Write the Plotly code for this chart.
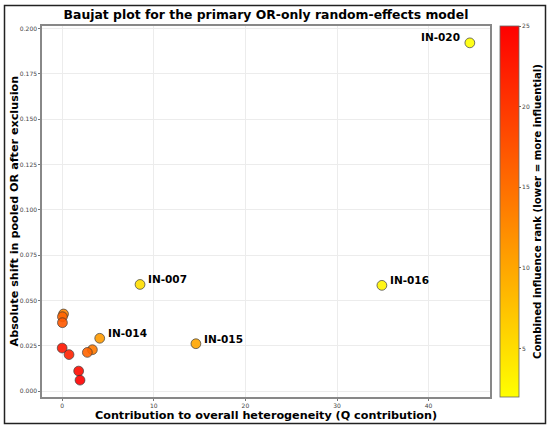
import plotly.graph_objects as go

# ---- data ----
q_contribution = [44.5, 34.9, 8.5, 14.6, 4.1, 0.15, 0.03, 0.03, 3.3, 2.75, 0.0, 0.75, 1.8, 1.95]
abs_shift = [0.1921, 0.0583, 0.0588, 0.0261, 0.0291, 0.0425, 0.0410, 0.0377, 0.0228, 0.0213, 0.0237, 0.0201, 0.0110, 0.0060]
influence_rank = [2, 3, 5, 10, 11, 13, 16, 17, 14, 16, 23, 22, 24, 25]
labels = ["IN-020", "IN-016", "IN-007", "IN-015", "IN-014", "", "", "", "", "", "", "", "", ""]

x_ticks = [0, 10, 20, 30, 40]
y_ticks = [0.000, 0.025, 0.050, 0.075, 0.100, 0.125, 0.150, 0.175, 0.200]
cbar_ticks = [5, 10, 15, 20, 25]

x_title = "Contribution to overall heterogeneity (Q contribution)"
y_title = "Absolute shift in pooled OR after exclusion"
c_title = "Combined influence rank (lower = more influential)"
main_title = "Baujat plot for the primary OR-only random-effects model"

W, H = 550, 428
ML, MR, MT, MB = 42, 60, 26, 31
pw, ph = W - ML - MR, H - MT - MB

FONT = "DejaVu Sans"


def px2paper_x(px):
    return (px - ML) / pw


def px2paper_y(py):
    return 1 - (py - MT) / ph


fig = go.Figure()
fig.add_trace(go.Scatter(
    x=q_contribution, y=abs_shift, mode="markers",
    marker=dict(
        size=9.8, color=influence_rank,
        colorscale=[[0, "rgb(255,255,0)"], [1, "rgb(255,0,0)"]],
        cmin=2, cmax=25, opacity=0.9,
        line=dict(color="#333333", width=0.75),
        colorbar=dict(
            x=px2paper_x(500), xanchor="left", xref="paper", xpad=0, ypad=0,
            y=0, yanchor="bottom", len=1, lenmode="fraction",
            thickness=19, thicknessmode="pixels",
            outlinewidth=0.8, outlinecolor="#666",
            tickvals=cbar_ticks, ticks="outside", ticklen=2, tickcolor="#666",
            tickfont=dict(size=6, color="#444", family=FONT),
            title=dict(text=c_title, side="right",
                       font=dict(size=10.2, family=FONT, color="black", weight="bold")),
        ),
    ),
    showlegend=False, hoverinfo="skip",
))

for xv, yv, lab in zip(q_contribution, abs_shift, labels):
    if not lab:
        continue
    if xv > 40:
        fig.add_annotation(x=xv, y=yv, text=lab, showarrow=False,
                           xanchor="right", yanchor="middle", xshift=-8, yshift=6,
                           font=dict(size=10.5, family=FONT, color="black", weight="bold"))
    else:
        fig.add_annotation(x=xv, y=yv, text=lab, showarrow=False,
                           xanchor="left", yanchor="middle", xshift=6, yshift=5,
                           font=dict(size=10.5, family=FONT, color="black", weight="bold"))

# axis titles
fig.add_annotation(xref="paper", yref="paper", x=0.5, y=px2paper_y(415),
                   text=x_title, showarrow=False, xanchor="center", yanchor="middle",
                   font=dict(size=11.2, family=FONT, color="black", weight="bold"))
fig.add_annotation(xref="paper", yref="paper", x=px2paper_x(14), y=0.5,
                   text=y_title, showarrow=False, xanchor="center", yanchor="middle",
                   textangle=-90,
                   font=dict(size=11.2, family=FONT, color="black", weight="bold"))

# outer figure frame
fig.add_shape(type="rect", xref="paper", yref="paper",
              x0=px2paper_x(4.5), x1=px2paper_x(545.5),
              y0=px2paper_y(423.5), y1=px2paper_y(5.5),
              line=dict(color="#222", width=1.5), fillcolor="rgba(0,0,0,0)", layer="above")

axis_common = dict(
    showline=True, linecolor="#888", linewidth=1.5, mirror=True,
    showgrid=True, gridcolor="#ececec", gridwidth=0.6, zeroline=False,
    ticks="outside", ticklen=2, tickcolor="#777", tickwidth=0.8,
    tickfont=dict(size=6, color="#444", family=FONT),
    automargin=False,
)

fig.update_layout(
    width=W, height=H,
    margin=dict(l=ML, r=MR, t=MT, b=MB, autoexpand=False),
    paper_bgcolor="white", plot_bgcolor="white",
    font=dict(family=FONT),
    title=dict(text=main_title,
               x=266 / W, xanchor="center", y=1 - 15 / H, yanchor="middle",
               font=dict(size=12.4, family=FONT, color="black", weight="bold")),
    xaxis=dict(range=[-2.2, 46.7], tickvals=x_ticks, **axis_common),
    yaxis=dict(range=[-0.0033, 0.2014], tickvals=y_ticks, tickformat=".3f", **axis_common),
)

fig.write_html("out.html", config={"displayModeBar": False},
               post_script="document.body.style.margin='0px';document.body.style.overflow='hidden';")
